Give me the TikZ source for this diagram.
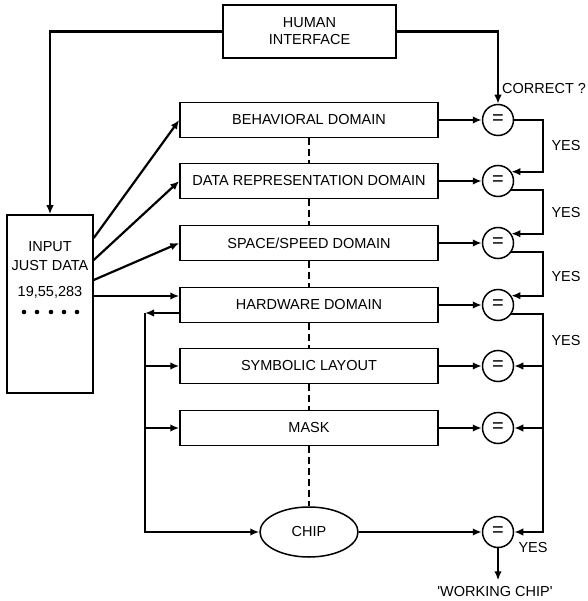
\documentclass[tikz,border=0pt]{standalone}
\usepackage{fontspec}
\setmainfont{Liberation Sans}
\usetikzlibrary{arrows.meta, positioning, calc, shapes.geometric}

\begin{document}
\begin{tikzpicture}[x=1pt, y=-1pt, font=\fontsize{14.5}{17}\selectfont,
        domainbox/.style={rectangle, draw, line width=1.5pt, minimum width=258pt,
                     minimum height=35pt, align=center},
        eqnode/.style={circle, draw, line width=1.5pt, minimum size=31pt, inner sep=0pt,
                     font=\fontsize{20}{20}\selectfont},
        arr/.style={-{Latex[length=9pt, width=7.5pt]}, line width=2.2pt},
        link/.style={line width=2.2pt, dash pattern=on 7pt off 4pt}
    ]
        \useasboundingbox (0,0) rectangle (587,601);
        % domains and their comparators
        \foreach \n/\y/\t in {
            beh/120/{BEHAVIORAL DOMAIN},
            datarep/181/{DATA REPRESENTATION DOMAIN},
            spsp/243/{SPACE/SPEED DOMAIN},
            hw/305/{HARDWARE DOMAIN},
            sym/366/{SYMBOLIC LAYOUT},
            mask/428/{MASK}}
        {
            \node[domainbox] (\n) at (309,\y) {\t};
            \node[eqnode] (eq\n) at (498,\y) {=};
            \draw[arr] (\n) -- (eq\n);
        }
        \node[ellipse, draw, line width=1.5pt, minimum width=98pt, minimum height=50pt] (chip) at (309,532) {CHIP};
        \node[eqnode] (eqchip) at (498,532) {=};
        \draw[arr] (chip) -- (eqchip);
        \foreach \a/\b in {beh/datarep, datarep/spsp, spsp/hw, hw/sym, sym/mask, mask/chip}
            \draw[link] (\a) -- (\b);

        % human interface and input
        \node[rectangle, draw, line width=1.5pt, minimum width=173pt, minimum height=53pt,
              align=center] (human) at (309.5,31.5) {HUMAN\\INTERFACE};
        \node[rectangle, draw, line width=1.5pt, minimum width=86pt, minimum height=178pt] (input) at (50,304) {};
        \foreach \y/\t [count=\i] in {247/INPUT, 266/{JUST DATA}, 292/{19,55,283}}
            \node (intxt\i) at (50,\y) {\t};
        \foreach \x in {24,37,51,64,77}
            \fill (\x,312) circle (2.3);
        \draw[arr] (human.west) -| (input.north);
        \draw[arr] (human.east) -| (eqbeh.north);
        \node[anchor=west, inner sep=0pt] (correct) at (502,89) {CORRECT ?};

        \foreach \n/\s in {beh/66, datarep/44, spsp/24}
            \draw[arr] ([yshift=\s pt]input.east) -- (\n.west);
        \draw[arr] ([yshift=8pt]input.east) -- ([yshift=8pt]input.east -| hw.west);

        % feedback from hardware
        \coordinate (fb) at (145,313);
        \draw[arr] (hw.west |- fb) -- (fb);
        \draw[arr] (fb) |- (chip.west);
        \foreach \n in {sym, mask}
            \draw[arr] (fb |- \n) -- (\n.west);

        % YES chain
        \coordinate (bus) at (543,0);
        \draw[arr] (eqbeh.east) -- (eqbeh.east -| bus) |- (eqdatarep.35);
        \foreach \a/\b in {datarep/spsp, spsp/hw}
            \draw[arr] (eq\a.-35) -- (eq\a.-35 -| bus) |- (eq\b.35);
        \draw[arr] (eqhw.-35) -- (eqhw.-35 -| bus) |- (eqchip.east);
        \foreach \n in {sym, mask}
            \draw[arr] (bus |- eq\n) -- (eq\n.east);
        \foreach \y in {146,213,277,341}
            \node[anchor=west] (yes\y) at (548,\y) {YES};
        \node[anchor=west] (yesend) at (515,548) {YES};

        \node (wchip) at (495,592) {\textquotesingle WORKING CHIP\textquotesingle};
        \draw[arr, shorten >=3pt] (eqchip.south) -- (eqchip.south |- wchip.north);
    \end{tikzpicture}
\end{document}
